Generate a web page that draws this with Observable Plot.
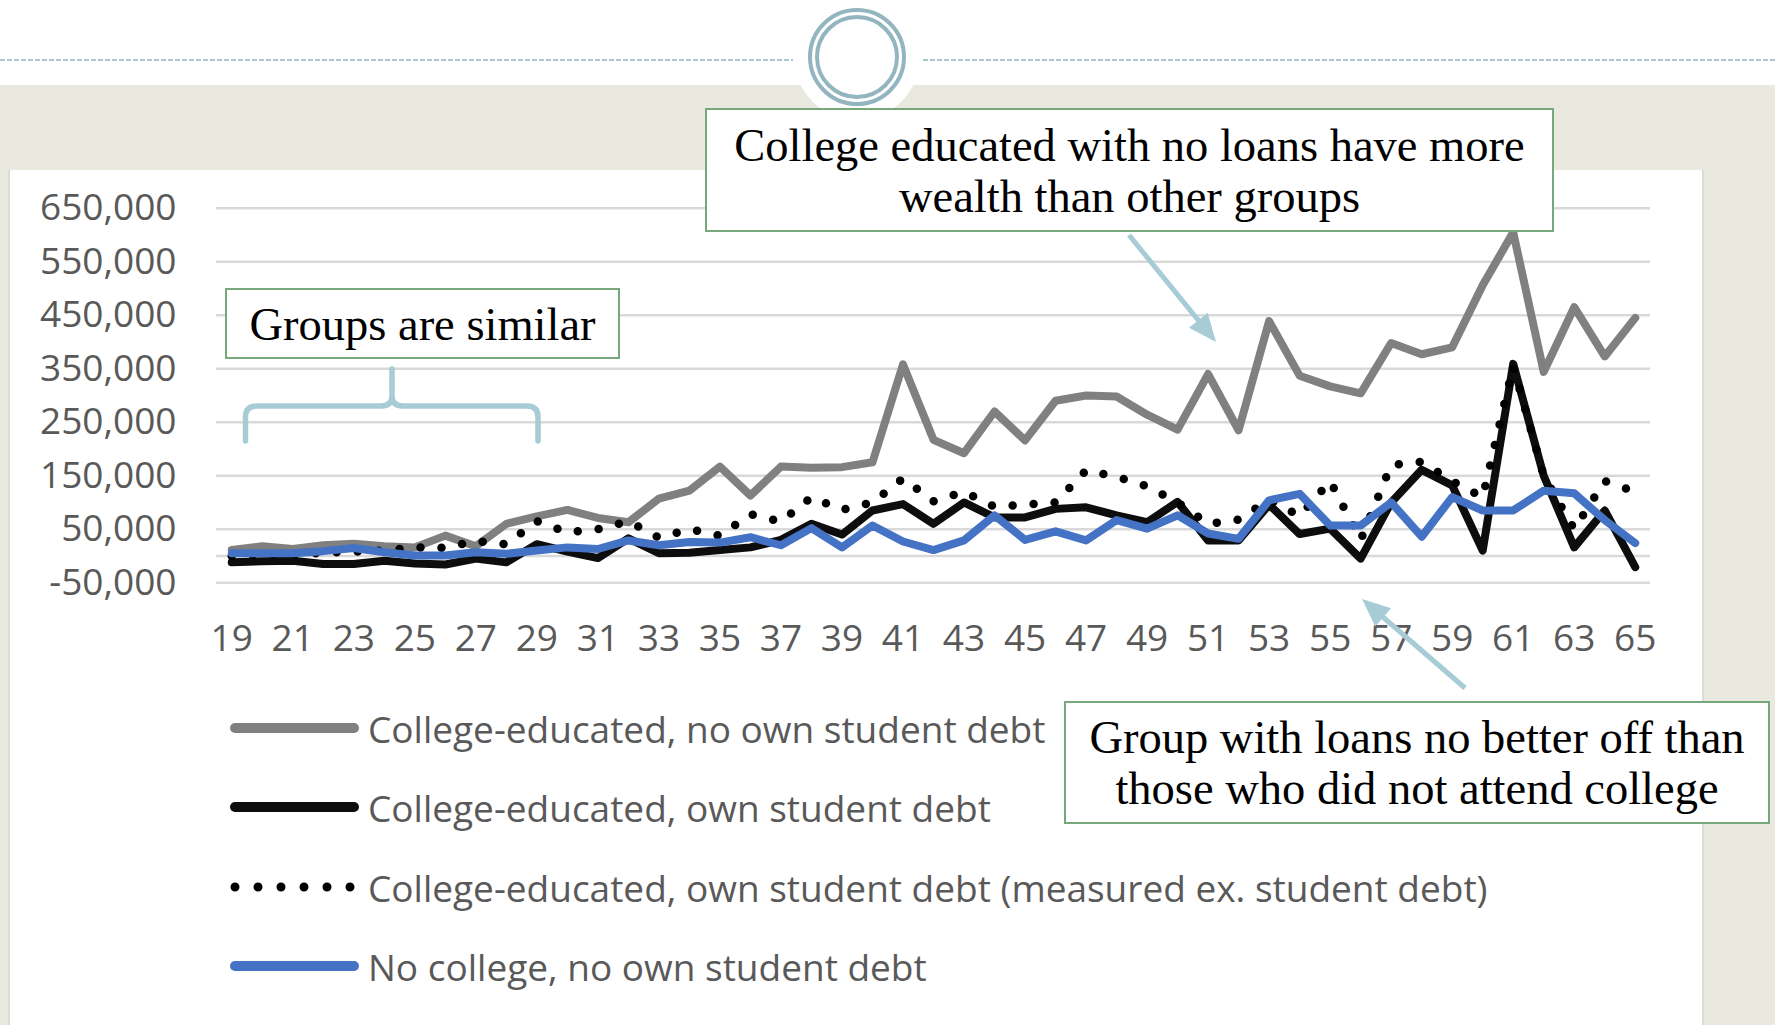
<!DOCTYPE html>
<html>
<head>
<meta charset="utf-8">
<script src="https://cdn.jsdelivr.net/npm/d3@7"></script>
<script src="https://cdn.jsdelivr.net/npm/@observablehq/plot@0.6"></script>
<style>
  html, body { margin: 0; padding: 0; background: #ffffff; }
  #page { position: relative; width: 1775px; height: 1025px; overflow: hidden; background: #ffffff; }
  .bg-beige { position: absolute; left: 0; top: 85px; width: 1775px; height: 940px; background: #E9E9DF; }
  .bg-panel { position: absolute; left: 8px; top: 170px; width: 1696px; height: 855px; background: #ffffff;
              border-left: 2px solid #DCDCD4; border-right: 2px solid #DCDCD4; box-sizing: border-box; }
  .deco { position: absolute; left: 0; top: 0; }
  .box { position: absolute; box-sizing: border-box; border: 2px solid #76A87B; background: #ffffff;
         font-family: "Liberation Serif", "Times New Roman", serif; font-size: 46.5px; line-height: 51px;
         color: #000000; text-align: center; white-space: nowrap; }
  .legend { position: absolute; left: 0; top: 0; }
  .legend-row { position: absolute; left: 226px; height: 40px; display: flex; align-items: center; }
  .legend-row span { font-family: "Open Sans", sans-serif; font-size: 37px; color: #595959; margin-left: 8px; white-space: nowrap; }
  #chart svg { position: absolute; left: 0; top: 0; overflow: visible; }
</style>
</head>
<body>
<div id="page">
  <div class="bg-beige"></div>
  <div class="bg-panel"></div>
  <svg class="deco" width="1775" height="170" id="topdeco"></svg>
  <div id="chart"></div>
  <svg class="deco" width="1775" height="1025" id="overlay"></svg>
  <div class="box" id="box1" style="left:705px; top:108px; width:849px; height:124px; padding-top:10px;">College educated with no loans have more<br>wealth than other groups</div>
  <div class="box" id="box2" style="left:225px; top:288px; width:395px; height:71px; padding-top:9px;">Groups are similar</div>
  <div class="box" id="box3" style="left:1064px; top:701px; width:706px; height:123px; padding-top:9px;">Group with loans no better off than<br>those who did not attend college</div>
  <div class="legend" id="legend"></div>
</div>
<script>
// ---------------- Data ----------------
const ages = [19,20,21,22,23,24,25,26,27,28,29,30,31,32,33,34,35,36,37,38,39,40,41,42,
              43,44,45,46,47,48,49,50,51,52,53,54,55,56,57,58,59,60,61,62,63,64,65];

// College-educated, no own student debt
const collegeNoDebt = [11000,18000,13000,20000,23000,18000,16000,38000,18000,60000,74000,86000,71000,63000,107000,122000,
  167000,113000,167000,165000,166000,175000,358000,217000,192000,270000,216000,290000,300000,298000,264000,236000,
  340000,235000,439000,337000,317000,304000,398000,377000,390000,506000,605000,344000,465000,373000,445000];

// College-educated, own student debt
const collegeOwnDebt = [-12000,-10000,-9000,-15000,-15000,-9000,-14000,-16000,-5000,-12000,22000,8000,-4000,33000,5000,6000,
  11000,16000,30000,60000,40000,85000,97000,60000,100000,72000,72000,88000,91000,76000,63000,101000,
  29000,29000,96000,41000,51000,-5000,100000,161000,132000,10000,359000,150000,16000,85000,-21000];

// College-educated, own student debt (measured ex. student debt)
const collegeOwnDebtEx = [0,2000,3000,6000,8000,10000,16000,15000,28000,22000,65000,44000,50000,65000,34000,50000,
  38000,78000,64000,110000,86000,100000,145000,102000,120000,92000,96000,100000,160000,148000,130000,100000,
  60000,68000,105000,75000,140000,30000,170000,176000,140000,110000,355000,150000,50000,140000,120000];

// No college, no own student debt
const noCollegeNoDebt = [5000,5000,5000,9000,15000,7000,1000,1000,7000,4000,10000,16000,13000,29000,20000,26000,
  25000,35000,20000,52000,16000,57000,27000,11000,29000,76000,30000,46000,29000,67000,51000,76000,
  42000,32000,104000,116000,57000,57000,100000,36000,110000,85000,85000,122000,117000,67000,24000];

const seriesNames = [
  "College-educated, no own student debt",
  "College-educated, own student debt",
  "College-educated, own student debt (measured ex. student debt)",
  "No college, no own student debt"
];
const seriesColors = ["#808080", "#0D0D0D", "#000000", "#4472C4"];

const yTicks = [-50000, 50000, 150000, 250000, 350000, 450000, 550000, 650000];
const xTicks = [19,21,23,25,27,29,31,33,35,37,39,41,43,45,47,49,51,53,55,57,59,61,63,65];

// ---------------- Chart ----------------
const toRows = (vals) => ages.map((a, i) => ({age: a, value: vals[i]}));

const chart = Plot.plot({
  width: 1775,
  height: 680,
  marginLeft: 216,
  marginRight: 125,
  marginTop: 207.7,
  marginBottom: 97.8,
  style: {background: "transparent", fontFamily: "'Open Sans', sans-serif", fontSize: "37px", color: "#595959"},
  x: {domain: [18.5, 65.5], ticks: xTicks, tickSize: 0, tickPadding: 42, tickFormat: d => String(d), label: null},
  y: {domain: [-50000, 650000], ticks: yTicks, tickSize: 0, tickPadding: 40,
      tickFormat: d => d.toLocaleString("en-US"), label: null},
  marks: [
    Plot.gridY(yTicks, {stroke: "#D9D9D9", strokeOpacity: 1, strokeWidth: 2.5}),
    Plot.ruleY([0], {stroke: "#D9D9D9", strokeWidth: 2.5}),
    Plot.lineY(toRows(collegeNoDebt), {x: "age", y: "value", stroke: seriesColors[0], strokeWidth: 8, strokeLinejoin: "round"}),
    Plot.lineY(toRows(collegeOwnDebt), {x: "age", y: "value", stroke: seriesColors[1], strokeWidth: 8, strokeLinejoin: "round"}),
    Plot.lineY(toRows(collegeOwnDebtEx), {x: "age", y: "value", stroke: seriesColors[2], strokeWidth: 8.5,
      strokeDasharray: "0 21", strokeLinecap: "round", strokeLinejoin: "round"}),
    Plot.lineY(toRows(noCollegeNoDebt), {x: "age", y: "value", stroke: seriesColors[3], strokeWidth: 8, strokeLinejoin: "round"})
  ]
});
document.getElementById("chart").appendChild(chart);

// ---------------- Decorations ----------------
const NS = "http://www.w3.org/2000/svg";
function el(parent, tag, attrs) {
  const e = document.createElementNS(NS, tag);
  for (const k in attrs) e.setAttribute(k, attrs[k]);
  parent.appendChild(e);
  return e;
}
// top ornament: dotted rule and double ring
const topDeco = document.getElementById("topdeco");
el(topDeco, "circle", {cx: 857, cy: 57, r: 63, fill: "#ffffff"});
el(topDeco, "line", {x1: 0, y1: 60, x2: 793, y2: 60, stroke: "#93B3BF", "stroke-width": 1.6, "stroke-dasharray": "5 2"});
el(topDeco, "line", {x1: 923, y1: 60, x2: 1775, y2: 60, stroke: "#93B3BF", "stroke-width": 1.6, "stroke-dasharray": "5 2"});
el(topDeco, "circle", {cx: 857, cy: 57, r: 47, fill: "none", stroke: "#93B5C0", "stroke-width": 4});
el(topDeco, "circle", {cx: 857, cy: 57, r: 40, fill: "none", stroke: "#93B5C0", "stroke-width": 4});

// annotations: brace and arrows
const ov = document.getElementById("overlay");
const annoColor = "#A7CCD6";
el(ov, "path", {d: "M245.5,441 L245.5,417 Q245.5,406 257,406 L381,406 Q392,406 392,396 L392,369 M392,396 Q392,406 403,406 L527,406 Q538,406 538,417 L538,441",
  fill: "none", stroke: annoColor, "stroke-width": 5.5, "stroke-linecap": "round", "stroke-linejoin": "round"});
function arrow(x1, y1, x2, y2) {
  const dx = x2 - x1, dy = y2 - y1, L = Math.hypot(dx, dy);
  const ux = dx / L, uy = dy / L, hl = 28, hw = 12;
  const bx = x2 - ux * hl, by = y2 - uy * hl;
  el(ov, "line", {x1, y1, x2: bx + ux * 2, y2: by + uy * 2, stroke: annoColor, "stroke-width": 5});
  el(ov, "polygon", {points: `${x2},${y2} ${bx - uy * hw},${by + ux * hw} ${bx + uy * hw},${by - ux * hw}`, fill: annoColor});
}
arrow(1129, 235, 1216, 342);
arrow(1465, 688, 1362, 599);

// ---------------- Legend ----------------
const legend = document.getElementById("legend");
const rowY = [728, 807, 887, 966];
seriesNames.forEach((name, i) => {
  const row = document.createElement("div");
  row.className = "legend-row";
  row.style.top = (rowY[i] - 20) + "px";
  const sw = document.createElementNS(NS, "svg");
  sw.setAttribute("width", 134); sw.setAttribute("height", 40);
  if (i === 2) {
    el(sw, "line", {x1: 9, y1: 20, x2: 127, y2: 20, stroke: seriesColors[i], "stroke-width": 9,
      "stroke-linecap": "round", "stroke-dasharray": "0 23"});
  } else {
    el(sw, "line", {x1: 9, y1: 20, x2: 128, y2: 20, stroke: seriesColors[i], "stroke-width": 10, "stroke-linecap": "round"});
  }
  row.appendChild(sw);
  const t = document.createElement("span");
  t.textContent = name;
  row.appendChild(t);
  legend.appendChild(row);
});
</script>
</body>
</html>
